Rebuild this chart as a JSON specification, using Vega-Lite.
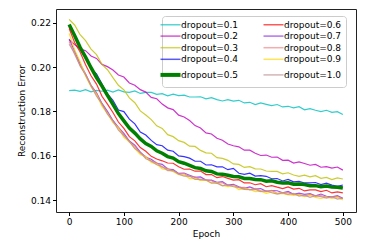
{
"$schema": "https://vega.github.io/schema/vega-lite/v6.json",
"width": 300, "height": 203,
"autosize": "none",
"padding": {"left": 56, "top": 9, "right": 17, "bottom": 38},
"background": "white",
"config": {"view": {"stroke": "#222", "strokeWidth": 1}, "font": "DejaVu Sans"},
"data": {"values": [
{"e":0,"s":"0.1","v":0.1894},{"e":10,"s":"0.1","v":0.1896},{"e":20,"s":"0.1","v":0.1890},{"e":30,"s":"0.1","v":0.1898},{"e":40,"s":"0.1","v":0.1888},{"e":50,"s":"0.1","v":0.1895},{"e":60,"s":"0.1","v":0.1891},{"e":70,"s":"0.1","v":0.1896},{"e":80,"s":"0.1","v":0.1887},{"e":90,"s":"0.1","v":0.1897},{"e":100,"s":"0.1","v":0.1888},{"e":110,"s":"0.1","v":0.1886},{"e":120,"s":"0.1","v":0.1892},{"e":130,"s":"0.1","v":0.1881},{"e":140,"s":"0.1","v":0.1886},{"e":150,"s":"0.1","v":0.1886},{"e":160,"s":"0.1","v":0.1877},{"e":170,"s":"0.1","v":0.1880},{"e":180,"s":"0.1","v":0.1870},{"e":190,"s":"0.1","v":0.1878},{"e":200,"s":"0.1","v":0.1871},{"e":210,"s":"0.1","v":0.1873},{"e":220,"s":"0.1","v":0.1865},{"e":230,"s":"0.1","v":0.1865},{"e":240,"s":"0.1","v":0.1866},{"e":250,"s":"0.1","v":0.1857},{"e":260,"s":"0.1","v":0.1862},{"e":270,"s":"0.1","v":0.1853},{"e":280,"s":"0.1","v":0.1847},{"e":290,"s":"0.1","v":0.1853},{"e":300,"s":"0.1","v":0.1846},{"e":310,"s":"0.1","v":0.1850},{"e":320,"s":"0.1","v":0.1838},{"e":330,"s":"0.1","v":0.1841},{"e":340,"s":"0.1","v":0.1831},{"e":350,"s":"0.1","v":0.1838},{"e":360,"s":"0.1","v":0.1832},{"e":370,"s":"0.1","v":0.1826},{"e":380,"s":"0.1","v":0.1831},{"e":390,"s":"0.1","v":0.1820},{"e":400,"s":"0.1","v":0.1823},{"e":410,"s":"0.1","v":0.1816},{"e":420,"s":"0.1","v":0.1821},{"e":430,"s":"0.1","v":0.1807},{"e":440,"s":"0.1","v":0.1812},{"e":450,"s":"0.1","v":0.1805},{"e":460,"s":"0.1","v":0.1799},{"e":470,"s":"0.1","v":0.1805},{"e":480,"s":"0.1","v":0.1796},{"e":490,"s":"0.1","v":0.1799},{"e":500,"s":"0.1","v":0.1786},
{"e":0,"s":"0.2","v":0.2123},{"e":10,"s":"0.2","v":0.2102},{"e":20,"s":"0.2","v":0.2082},{"e":30,"s":"0.2","v":0.2074},{"e":40,"s":"0.2","v":0.2050},{"e":50,"s":"0.2","v":0.2039},{"e":60,"s":"0.2","v":0.2012},{"e":70,"s":"0.2","v":0.2002},{"e":80,"s":"0.2","v":0.1987},{"e":90,"s":"0.2","v":0.1964},{"e":100,"s":"0.2","v":0.1955},{"e":110,"s":"0.2","v":0.1928},{"e":120,"s":"0.2","v":0.1918},{"e":130,"s":"0.2","v":0.1898},{"e":140,"s":"0.2","v":0.1887},{"e":150,"s":"0.2","v":0.1863},{"e":160,"s":"0.2","v":0.1857},{"e":170,"s":"0.2","v":0.1833},{"e":180,"s":"0.2","v":0.1816},{"e":190,"s":"0.2","v":0.1808},{"e":200,"s":"0.2","v":0.1783},{"e":210,"s":"0.2","v":0.1775},{"e":220,"s":"0.2","v":0.1759},{"e":230,"s":"0.2","v":0.1736},{"e":240,"s":"0.2","v":0.1725},{"e":250,"s":"0.2","v":0.1703},{"e":260,"s":"0.2","v":0.1698},{"e":270,"s":"0.2","v":0.1679},{"e":280,"s":"0.2","v":0.1670},{"e":290,"s":"0.2","v":0.1653},{"e":300,"s":"0.2","v":0.1645},{"e":310,"s":"0.2","v":0.1640},{"e":320,"s":"0.2","v":0.1625},{"e":330,"s":"0.2","v":0.1625},{"e":340,"s":"0.2","v":0.1611},{"e":350,"s":"0.2","v":0.1601},{"e":360,"s":"0.2","v":0.1603},{"e":370,"s":"0.2","v":0.1593},{"e":380,"s":"0.2","v":0.1594},{"e":390,"s":"0.2","v":0.1579},{"e":400,"s":"0.2","v":0.1580},{"e":410,"s":"0.2","v":0.1567},{"e":420,"s":"0.2","v":0.1572},{"e":430,"s":"0.2","v":0.1565},{"e":440,"s":"0.2","v":0.1557},{"e":450,"s":"0.2","v":0.1561},{"e":460,"s":"0.2","v":0.1548},{"e":470,"s":"0.2","v":0.1551},{"e":480,"s":"0.2","v":0.1544},{"e":490,"s":"0.2","v":0.1549},{"e":500,"s":"0.2","v":0.1535},
{"e":0,"s":"0.3","v":0.2215},{"e":10,"s":"0.3","v":0.2190},{"e":20,"s":"0.3","v":0.2146},{"e":30,"s":"0.3","v":0.2119},{"e":40,"s":"0.3","v":0.2081},{"e":50,"s":"0.3","v":0.2056},{"e":60,"s":"0.3","v":0.2012},{"e":70,"s":"0.3","v":0.1988},{"e":80,"s":"0.3","v":0.1952},{"e":90,"s":"0.3","v":0.1918},{"e":100,"s":"0.3","v":0.1897},{"e":110,"s":"0.3","v":0.1861},{"e":120,"s":"0.3","v":0.1839},{"e":130,"s":"0.3","v":0.1802},{"e":140,"s":"0.3","v":0.1784},{"e":150,"s":"0.3","v":0.1763},{"e":160,"s":"0.3","v":0.1735},{"e":170,"s":"0.3","v":0.1723},{"e":180,"s":"0.3","v":0.1695},{"e":190,"s":"0.3","v":0.1686},{"e":200,"s":"0.3","v":0.1668},{"e":210,"s":"0.3","v":0.1660},{"e":220,"s":"0.3","v":0.1643},{"e":230,"s":"0.3","v":0.1642},{"e":240,"s":"0.3","v":0.1624},{"e":250,"s":"0.3","v":0.1613},{"e":260,"s":"0.3","v":0.1611},{"e":270,"s":"0.3","v":0.1591},{"e":280,"s":"0.3","v":0.1588},{"e":290,"s":"0.3","v":0.1579},{"e":300,"s":"0.3","v":0.1563},{"e":310,"s":"0.3","v":0.1561},{"e":320,"s":"0.3","v":0.1547},{"e":330,"s":"0.3","v":0.1551},{"e":340,"s":"0.3","v":0.1541},{"e":350,"s":"0.3","v":0.1540},{"e":360,"s":"0.3","v":0.1531},{"e":370,"s":"0.3","v":0.1529},{"e":380,"s":"0.3","v":0.1529},{"e":390,"s":"0.3","v":0.1518},{"e":400,"s":"0.3","v":0.1523},{"e":410,"s":"0.3","v":0.1513},{"e":420,"s":"0.3","v":0.1507},{"e":430,"s":"0.3","v":0.1512},{"e":440,"s":"0.3","v":0.1505},{"e":450,"s":"0.3","v":0.1510},{"e":460,"s":"0.3","v":0.1498},{"e":470,"s":"0.3","v":0.1502},{"e":480,"s":"0.3","v":0.1492},{"e":490,"s":"0.3","v":0.1500},{"e":500,"s":"0.3","v":0.1495},
{"e":0,"s":"0.4","v":0.2181},{"e":10,"s":"0.4","v":0.2146},{"e":20,"s":"0.4","v":0.2086},{"e":30,"s":"0.4","v":0.2045},{"e":40,"s":"0.4","v":0.1992},{"e":50,"s":"0.4","v":0.1969},{"e":60,"s":"0.4","v":0.1923},{"e":70,"s":"0.4","v":0.1879},{"e":80,"s":"0.4","v":0.1850},{"e":90,"s":"0.4","v":0.1806},{"e":100,"s":"0.4","v":0.1799},{"e":110,"s":"0.4","v":0.1765},{"e":120,"s":"0.4","v":0.1744},{"e":130,"s":"0.4","v":0.1707},{"e":140,"s":"0.4","v":0.1693},{"e":150,"s":"0.4","v":0.1669},{"e":160,"s":"0.4","v":0.1650},{"e":170,"s":"0.4","v":0.1645},{"e":180,"s":"0.4","v":0.1625},{"e":190,"s":"0.4","v":0.1620},{"e":200,"s":"0.4","v":0.1599},{"e":210,"s":"0.4","v":0.1596},{"e":220,"s":"0.4","v":0.1589},{"e":230,"s":"0.4","v":0.1575},{"e":240,"s":"0.4","v":0.1575},{"e":250,"s":"0.4","v":0.1558},{"e":260,"s":"0.4","v":0.1559},{"e":270,"s":"0.4","v":0.1550},{"e":280,"s":"0.4","v":0.1550},{"e":290,"s":"0.4","v":0.1537},{"e":300,"s":"0.4","v":0.1543},{"e":310,"s":"0.4","v":0.1521},{"e":320,"s":"0.4","v":0.1516},{"e":330,"s":"0.4","v":0.1521},{"e":340,"s":"0.4","v":0.1508},{"e":350,"s":"0.4","v":0.1510},{"e":360,"s":"0.4","v":0.1507},{"e":370,"s":"0.4","v":0.1496},{"e":380,"s":"0.4","v":0.1497},{"e":390,"s":"0.4","v":0.1486},{"e":400,"s":"0.4","v":0.1493},{"e":410,"s":"0.4","v":0.1482},{"e":420,"s":"0.4","v":0.1484},{"e":430,"s":"0.4","v":0.1477},{"e":440,"s":"0.4","v":0.1477},{"e":450,"s":"0.4","v":0.1479},{"e":460,"s":"0.4","v":0.1470},{"e":470,"s":"0.4","v":0.1476},{"e":480,"s":"0.4","v":0.1467},{"e":490,"s":"0.4","v":0.1462},{"e":500,"s":"0.4","v":0.1468},
{"e":0,"s":"0.5","v":0.2192},{"e":10,"s":"0.5","v":0.2142},{"e":20,"s":"0.5","v":0.2089},{"e":30,"s":"0.5","v":0.2045},{"e":40,"s":"0.5","v":0.1997},{"e":50,"s":"0.5","v":0.1953},{"e":60,"s":"0.5","v":0.1914},{"e":70,"s":"0.5","v":0.1872},{"e":80,"s":"0.5","v":0.1832},{"e":90,"s":"0.5","v":0.1790},{"e":100,"s":"0.5","v":0.1757},{"e":110,"s":"0.5","v":0.1725},{"e":120,"s":"0.5","v":0.1702},{"e":130,"s":"0.5","v":0.1676},{"e":140,"s":"0.5","v":0.1655},{"e":150,"s":"0.5","v":0.1642},{"e":160,"s":"0.5","v":0.1622},{"e":170,"s":"0.5","v":0.1611},{"e":180,"s":"0.5","v":0.1596},{"e":190,"s":"0.5","v":0.1589},{"e":200,"s":"0.5","v":0.1573},{"e":210,"s":"0.5","v":0.1566},{"e":220,"s":"0.5","v":0.1556},{"e":230,"s":"0.5","v":0.1546},{"e":240,"s":"0.5","v":0.1542},{"e":250,"s":"0.5","v":0.1532},{"e":260,"s":"0.5","v":0.1529},{"e":270,"s":"0.5","v":0.1518},{"e":280,"s":"0.5","v":0.1516},{"e":290,"s":"0.5","v":0.1512},{"e":300,"s":"0.5","v":0.1506},{"e":310,"s":"0.5","v":0.1505},{"e":320,"s":"0.5","v":0.1497},{"e":330,"s":"0.5","v":0.1497},{"e":340,"s":"0.5","v":0.1493},{"e":350,"s":"0.5","v":0.1492},{"e":360,"s":"0.5","v":0.1485},{"e":370,"s":"0.5","v":0.1487},{"e":380,"s":"0.5","v":0.1480},{"e":390,"s":"0.5","v":0.1477},{"e":400,"s":"0.5","v":0.1478},{"e":410,"s":"0.5","v":0.1471},{"e":420,"s":"0.5","v":0.1472},{"e":430,"s":"0.5","v":0.1470},{"e":440,"s":"0.5","v":0.1465},{"e":450,"s":"0.5","v":0.1465},{"e":460,"s":"0.5","v":0.1460},{"e":470,"s":"0.5","v":0.1463},{"e":480,"s":"0.5","v":0.1459},{"e":490,"s":"0.5","v":0.1458},{"e":500,"s":"0.5","v":0.1454},
{"e":0,"s":"0.6","v":0.2174},{"e":10,"s":"0.6","v":0.2111},{"e":20,"s":"0.6","v":0.2068},{"e":30,"s":"0.6","v":0.2010},{"e":40,"s":"0.6","v":0.1961},{"e":50,"s":"0.6","v":0.1923},{"e":60,"s":"0.6","v":0.1868},{"e":70,"s":"0.6","v":0.1833},{"e":80,"s":"0.6","v":0.1795},{"e":90,"s":"0.6","v":0.1752},{"e":100,"s":"0.6","v":0.1723},{"e":110,"s":"0.6","v":0.1686},{"e":120,"s":"0.6","v":0.1667},{"e":130,"s":"0.6","v":0.1637},{"e":140,"s":"0.6","v":0.1620},{"e":150,"s":"0.6","v":0.1597},{"e":160,"s":"0.6","v":0.1585},{"e":170,"s":"0.6","v":0.1577},{"e":180,"s":"0.6","v":0.1567},{"e":190,"s":"0.6","v":0.1566},{"e":200,"s":"0.6","v":0.1550},{"e":210,"s":"0.6","v":0.1539},{"e":220,"s":"0.6","v":0.1540},{"e":230,"s":"0.6","v":0.1530},{"e":240,"s":"0.6","v":0.1531},{"e":250,"s":"0.6","v":0.1515},{"e":260,"s":"0.6","v":0.1515},{"e":270,"s":"0.6","v":0.1501},{"e":280,"s":"0.6","v":0.1506},{"e":290,"s":"0.6","v":0.1498},{"e":300,"s":"0.6","v":0.1490},{"e":310,"s":"0.6","v":0.1492},{"e":320,"s":"0.6","v":0.1477},{"e":330,"s":"0.6","v":0.1478},{"e":340,"s":"0.6","v":0.1469},{"e":350,"s":"0.6","v":0.1474},{"e":360,"s":"0.6","v":0.1460},{"e":370,"s":"0.6","v":0.1465},{"e":380,"s":"0.6","v":0.1458},{"e":390,"s":"0.6","v":0.1452},{"e":400,"s":"0.6","v":0.1459},{"e":410,"s":"0.6","v":0.1449},{"e":420,"s":"0.6","v":0.1453},{"e":430,"s":"0.6","v":0.1441},{"e":440,"s":"0.6","v":0.1446},{"e":450,"s":"0.6","v":0.1446},{"e":460,"s":"0.6","v":0.1438},{"e":470,"s":"0.6","v":0.1444},{"e":480,"s":"0.6","v":0.1432},{"e":490,"s":"0.6","v":0.1437},{"e":500,"s":"0.6","v":0.1432},
{"e":0,"s":"0.7","v":0.2127},{"e":10,"s":"0.7","v":0.2072},{"e":20,"s":"0.7","v":0.2015},{"e":30,"s":"0.7","v":0.1969},{"e":40,"s":"0.7","v":0.1917},{"e":50,"s":"0.7","v":0.1884},{"e":60,"s":"0.7","v":0.1836},{"e":70,"s":"0.7","v":0.1800},{"e":80,"s":"0.7","v":0.1759},{"e":90,"s":"0.7","v":0.1728},{"e":100,"s":"0.7","v":0.1701},{"e":110,"s":"0.7","v":0.1666},{"e":120,"s":"0.7","v":0.1647},{"e":130,"s":"0.7","v":0.1616},{"e":140,"s":"0.7","v":0.1593},{"e":150,"s":"0.7","v":0.1584},{"e":160,"s":"0.7","v":0.1566},{"e":170,"s":"0.7","v":0.1561},{"e":180,"s":"0.7","v":0.1540},{"e":190,"s":"0.7","v":0.1537},{"e":200,"s":"0.7","v":0.1520},{"e":210,"s":"0.7","v":0.1522},{"e":220,"s":"0.7","v":0.1512},{"e":230,"s":"0.7","v":0.1502},{"e":240,"s":"0.7","v":0.1504},{"e":250,"s":"0.7","v":0.1490},{"e":260,"s":"0.7","v":0.1490},{"e":270,"s":"0.7","v":0.1480},{"e":280,"s":"0.7","v":0.1483},{"e":290,"s":"0.7","v":0.1467},{"e":300,"s":"0.7","v":0.1471},{"e":310,"s":"0.7","v":0.1460},{"e":320,"s":"0.7","v":0.1453},{"e":330,"s":"0.7","v":0.1459},{"e":340,"s":"0.7","v":0.1449},{"e":350,"s":"0.7","v":0.1452},{"e":360,"s":"0.7","v":0.1439},{"e":370,"s":"0.7","v":0.1443},{"e":380,"s":"0.7","v":0.1442},{"e":390,"s":"0.7","v":0.1433},{"e":400,"s":"0.7","v":0.1439},{"e":410,"s":"0.7","v":0.1426},{"e":420,"s":"0.7","v":0.1431},{"e":430,"s":"0.7","v":0.1426},{"e":440,"s":"0.7","v":0.1429},{"e":450,"s":"0.7","v":0.1419},{"e":460,"s":"0.7","v":0.1427},{"e":470,"s":"0.7","v":0.1417},{"e":480,"s":"0.7","v":0.1414},{"e":490,"s":"0.7","v":0.1420},{"e":500,"s":"0.7","v":0.1408},
{"e":0,"s":"0.8","v":0.2115},{"e":10,"s":"0.8","v":0.2058},{"e":20,"s":"0.8","v":0.2007},{"e":30,"s":"0.8","v":0.1967},{"e":40,"s":"0.8","v":0.1918},{"e":50,"s":"0.8","v":0.1882},{"e":60,"s":"0.8","v":0.1829},{"e":70,"s":"0.8","v":0.1795},{"e":80,"s":"0.8","v":0.1751},{"e":90,"s":"0.8","v":0.1728},{"e":100,"s":"0.8","v":0.1694},{"e":110,"s":"0.8","v":0.1662},{"e":120,"s":"0.8","v":0.1643},{"e":130,"s":"0.8","v":0.1610},{"e":140,"s":"0.8","v":0.1596},{"e":150,"s":"0.8","v":0.1575},{"e":160,"s":"0.8","v":0.1569},{"e":170,"s":"0.8","v":0.1546},{"e":180,"s":"0.8","v":0.1543},{"e":190,"s":"0.8","v":0.1530},{"e":200,"s":"0.8","v":0.1518},{"e":210,"s":"0.8","v":0.1519},{"e":220,"s":"0.8","v":0.1505},{"e":230,"s":"0.8","v":0.1505},{"e":240,"s":"0.8","v":0.1489},{"e":250,"s":"0.8","v":0.1491},{"e":260,"s":"0.8","v":0.1487},{"e":270,"s":"0.8","v":0.1475},{"e":280,"s":"0.8","v":0.1478},{"e":290,"s":"0.8","v":0.1463},{"e":300,"s":"0.8","v":0.1466},{"e":310,"s":"0.8","v":0.1456},{"e":320,"s":"0.8","v":0.1457},{"e":330,"s":"0.8","v":0.1446},{"e":340,"s":"0.8","v":0.1453},{"e":350,"s":"0.8","v":0.1442},{"e":360,"s":"0.8","v":0.1438},{"e":370,"s":"0.8","v":0.1443},{"e":380,"s":"0.8","v":0.1430},{"e":390,"s":"0.8","v":0.1434},{"e":400,"s":"0.8","v":0.1433},{"e":410,"s":"0.8","v":0.1423},{"e":420,"s":"0.8","v":0.1426},{"e":430,"s":"0.8","v":0.1417},{"e":440,"s":"0.8","v":0.1425},{"e":450,"s":"0.8","v":0.1418},{"e":460,"s":"0.8","v":0.1420},{"e":470,"s":"0.8","v":0.1413},{"e":480,"s":"0.8","v":0.1413},{"e":490,"s":"0.8","v":0.1415},{"e":500,"s":"0.8","v":0.1406},
{"e":0,"s":"0.9","v":0.2152},{"e":10,"s":"0.9","v":0.2078},{"e":20,"s":"0.9","v":0.2025},{"e":30,"s":"0.9","v":0.1960},{"e":40,"s":"0.9","v":0.1911},{"e":50,"s":"0.9","v":0.1876},{"e":60,"s":"0.9","v":0.1824},{"e":70,"s":"0.9","v":0.1790},{"e":80,"s":"0.9","v":0.1750},{"e":90,"s":"0.9","v":0.1725},{"e":100,"s":"0.9","v":0.1683},{"e":110,"s":"0.9","v":0.1663},{"e":120,"s":"0.9","v":0.1632},{"e":130,"s":"0.9","v":0.1605},{"e":140,"s":"0.9","v":0.1594},{"e":150,"s":"0.9","v":0.1570},{"e":160,"s":"0.9","v":0.1562},{"e":170,"s":"0.9","v":0.1540},{"e":180,"s":"0.9","v":0.1536},{"e":190,"s":"0.9","v":0.1529},{"e":200,"s":"0.9","v":0.1514},{"e":210,"s":"0.9","v":0.1514},{"e":220,"s":"0.9","v":0.1497},{"e":230,"s":"0.9","v":0.1498},{"e":240,"s":"0.9","v":0.1489},{"e":250,"s":"0.9","v":0.1489},{"e":260,"s":"0.9","v":0.1475},{"e":270,"s":"0.9","v":0.1479},{"e":280,"s":"0.9","v":0.1466},{"e":290,"s":"0.9","v":0.1460},{"e":300,"s":"0.9","v":0.1464},{"e":310,"s":"0.9","v":0.1447},{"e":320,"s":"0.9","v":0.1450},{"e":330,"s":"0.9","v":0.1448},{"e":340,"s":"0.9","v":0.1438},{"e":350,"s":"0.9","v":0.1440},{"e":360,"s":"0.9","v":0.1430},{"e":370,"s":"0.9","v":0.1437},{"e":380,"s":"0.9","v":0.1429},{"e":390,"s":"0.9","v":0.1430},{"e":400,"s":"0.9","v":0.1423},{"e":410,"s":"0.9","v":0.1422},{"e":420,"s":"0.9","v":0.1424},{"e":430,"s":"0.9","v":0.1415},{"e":440,"s":"0.9","v":0.1421},{"e":450,"s":"0.9","v":0.1412},{"e":460,"s":"0.9","v":0.1407},{"e":470,"s":"0.9","v":0.1413},{"e":480,"s":"0.9","v":0.1407},{"e":490,"s":"0.9","v":0.1412},{"e":500,"s":"0.9","v":0.1400},
{"e":0,"s":"1.0","v":0.2103},{"e":10,"s":"1.0","v":0.2063},{"e":20,"s":"1.0","v":0.2005},{"e":30,"s":"1.0","v":0.1964},{"e":40,"s":"1.0","v":0.1915},{"e":50,"s":"1.0","v":0.1869},{"e":60,"s":"1.0","v":0.1835},{"e":70,"s":"1.0","v":0.1788},{"e":80,"s":"1.0","v":0.1758},{"e":90,"s":"1.0","v":0.1715},{"e":100,"s":"1.0","v":0.1691},{"e":110,"s":"1.0","v":0.1665},{"e":120,"s":"1.0","v":0.1632},{"e":130,"s":"1.0","v":0.1616},{"e":140,"s":"1.0","v":0.1586},{"e":150,"s":"1.0","v":0.1576},{"e":160,"s":"1.0","v":0.1559},{"e":170,"s":"1.0","v":0.1552},{"e":180,"s":"1.0","v":0.1533},{"e":190,"s":"1.0","v":0.1534},{"e":200,"s":"1.0","v":0.1517},{"e":210,"s":"1.0","v":0.1508},{"e":220,"s":"1.0","v":0.1509},{"e":230,"s":"1.0","v":0.1493},{"e":240,"s":"1.0","v":0.1494},{"e":250,"s":"1.0","v":0.1490},{"e":260,"s":"1.0","v":0.1477},{"e":270,"s":"1.0","v":0.1476},{"e":280,"s":"1.0","v":0.1464},{"e":290,"s":"1.0","v":0.1469},{"e":300,"s":"1.0","v":0.1460},{"e":310,"s":"1.0","v":0.1457},{"e":320,"s":"1.0","v":0.1448},{"e":330,"s":"1.0","v":0.1447},{"e":340,"s":"1.0","v":0.1448},{"e":350,"s":"1.0","v":0.1438},{"e":360,"s":"1.0","v":0.1443},{"e":370,"s":"1.0","v":0.1433},{"e":380,"s":"1.0","v":0.1427},{"e":390,"s":"1.0","v":0.1432},{"e":400,"s":"1.0","v":0.1426},{"e":410,"s":"1.0","v":0.1430},{"e":420,"s":"1.0","v":0.1418},{"e":430,"s":"1.0","v":0.1422},{"e":440,"s":"1.0","v":0.1412},{"e":450,"s":"1.0","v":0.1420},{"e":460,"s":"1.0","v":0.1415},{"e":470,"s":"1.0","v":0.1409},{"e":480,"s":"1.0","v":0.1415},{"e":490,"s":"1.0","v":0.1404},{"e":500,"s":"1.0","v":0.1408}
]},
"mark": {"type": "line"},
"encoding": {
"x": {"field": "e", "type": "quantitative", "scale": {"domain": [-24, 524], "nice": false, "zero": false},
"axis": {"title": "Epoch", "values": [0, 100, 200, 300, 400, 500], "grid": false, "domain": false, "tickSize": 3.5, "tickColor": "#000", "labelFontSize": 9, "labelColor": "#000", "labelFont": "DejaVu Sans", "labelPadding": 2, "titleFont": "DejaVu Sans", "titleFontSize": 9, "titleFontWeight": "normal", "titleColor": "#000", "titlePadding": 3}},
"y": {"field": "v", "type": "quantitative", "scale": {"domain": [0.1346, 0.2262], "nice": false, "zero": false},
"axis": {"title": "Reconstruction Error", "values": [0.14, 0.16, 0.18, 0.2, 0.22], "format": ".2f", "grid": false, "domain": false, "tickSize": 3.5, "tickColor": "#000", "labelFontSize": 9, "labelColor": "#000", "labelFont": "DejaVu Sans", "labelPadding": 2, "titleFont": "DejaVu Sans", "titleFontSize": 9, "titleFontWeight": "normal", "titleColor": "#000", "titlePadding": 4}},
"color": {"field": "s", "type": "nominal",
"scale": {"domain": ["0.1", "0.2", "0.3", "0.4", "0.5", "0.6", "0.7", "0.8", "0.9", "1.0"], "range": ["#00bfbf", "#bf00bf", "#bfbf00", "#0000ff", "#008000", "#ff0000", "#8a2be2", "#f08080", "#ffd700", "#bc8f8f"]},
"legend": {"title": null, "orient": "none", "legendX": 106, "legendY": 7, "columns": 2, "symbolType": "stroke", "symbolSize": 400, "symbolStrokeWidth": 1.5, "labelFontSize": 9, "labelFont": "DejaVu Sans", "labelColor": "#000", "labelOffset": 6, "rowPadding": 1.6, "columnPadding": 21, "padding": 4, "strokeColor": "#cccccc", "fillColor": "rgba(255,255,255,0.8)", "cornerRadius": 3, "labelExpr": "'dropout=' + datum.label",
"encode": {"symbols": {"update": {"strokeWidth": {"signal": "datum.value === '0.5' ? 4 : 1.5"}, "opacity": {"signal": "datum.value === '0.5' ? 1 : 0.65"}}}}}},
"strokeWidth": {"condition": {"test": "datum.s === '0.5'", "value": 3.5}, "value": 1.2},
"strokeOpacity": {"condition": {"test": "datum.s === '0.5'", "value": 1}, "value": 0.8}
}
}
